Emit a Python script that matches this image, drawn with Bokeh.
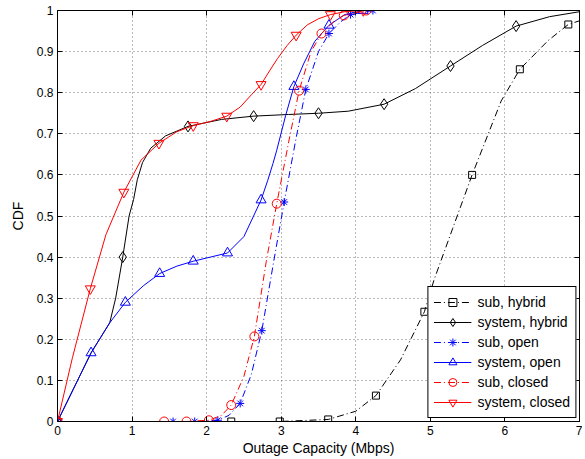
from bokeh.plotting import figure
from bokeh.models import Range1d, LinearAxis, FixedTicker, CustomJSTickFormatter
from bokeh.embed import file_html
from bokeh.resources import INLINE

# ---- data ----
x_ticks = [0, 1, 2, 3, 4, 5, 6, 7]
y_ticks = [0.0, 0.1, 0.2, 0.3, 0.4, 0.5, 0.6, 0.7, 0.8, 0.9, 1.0]

sub_hybrid_x = [0, 2.33, 2.98, 3.63, 4.0, 4.27, 4.6, 4.92, 5.05, 5.3, 5.56, 5.95, 6.2, 6.58, 6.85, 7.0]
sub_hybrid_y = [0, 0, 0, 0.005, 0.025, 0.063, 0.15, 0.267, 0.345, 0.47, 0.6, 0.78, 0.857, 0.927, 0.966, 0.975]
sub_hybrid_mx = [0, 2.33, 2.98, 3.63, 4.27, 4.92, 5.56, 6.2, 6.85]
sub_hybrid_my = [0, 0, 0, 0.005, 0.063, 0.267, 0.6, 0.857, 0.966]

sys_hybrid_x = [0, 0.45, 0.7, 0.78, 0.875, 0.96, 1.02, 1.07, 1.14, 1.25, 1.45, 1.75, 2.2, 2.63, 3.1, 3.5, 3.9, 4.38, 4.8, 5.27, 5.7, 6.15, 6.6, 7.0]
sys_hybrid_y = [0, 0.167, 0.24, 0.30, 0.40, 0.50, 0.54, 0.588, 0.63, 0.665, 0.695, 0.718, 0.735, 0.743, 0.747, 0.75, 0.755, 0.772, 0.81, 0.865, 0.915, 0.962, 0.985, 0.997]
sys_hybrid_mx = [0, 0.875, 1.75, 2.63, 3.5, 4.38, 5.27, 6.15]
sys_hybrid_my = [0, 0.40, 0.718, 0.743, 0.75, 0.772, 0.865, 0.962]

sub_open_x = [0, 1.55, 1.84, 2.15, 2.3, 2.45, 2.6, 2.74, 2.9, 3.04, 3.2, 3.33, 3.5, 3.64, 3.8, 3.93, 4.23]
sub_open_y = [0, 0, 0, 0.003, 0.015, 0.044, 0.115, 0.221, 0.39, 0.534, 0.69, 0.808, 0.9, 0.944, 0.973, 0.99, 1.0]
sub_open_mx = [0, 1.55, 1.84, 2.15, 2.45, 2.74, 3.04, 3.33, 3.64, 3.93, 4.23]
sub_open_my = [0, 0, 0, 0.003, 0.044, 0.221, 0.534, 0.808, 0.944, 0.99, 1.0]

sys_open_x = [0, 0.45, 0.7, 0.91, 1.15, 1.37, 1.6, 1.82, 2.05, 2.28, 2.5, 2.73, 2.82, 2.89, 2.94, 3.06, 3.17, 3.3, 3.45, 3.64, 3.85, 4.1, 4.5]
sys_open_y = [0, 0.167, 0.24, 0.29, 0.33, 0.36, 0.378, 0.39, 0.40, 0.41, 0.45, 0.539, 0.587, 0.628, 0.66, 0.745, 0.815, 0.87, 0.925, 0.964, 0.99, 1.0, 1.0]
sys_open_mx = [0, 0.45, 0.91, 1.37, 1.82, 2.28, 2.73, 3.17, 3.64, 4.1]
sys_open_my = [0, 0.167, 0.29, 0.36, 0.39, 0.41, 0.539, 0.815, 0.964, 1.0]

sub_closed_x = [0, 1.43, 1.73, 2.03, 2.2, 2.33, 2.5, 2.64, 2.8, 2.94, 3.1, 3.24, 3.4, 3.54, 3.7, 3.84, 4.14]
sub_closed_y = [0, 0, 0, 0.003, 0.015, 0.04, 0.11, 0.207, 0.39, 0.53, 0.68, 0.805, 0.9, 0.944, 0.972, 0.988, 1.0]
sub_closed_mx = [0, 1.43, 1.73, 2.03, 2.33, 2.64, 2.94, 3.24, 3.54, 3.84, 4.14]
sub_closed_my = [0, 0, 0, 0.003, 0.04, 0.207, 0.53, 0.805, 0.944, 0.988, 1.0]

sys_closed_x = [0, 0.2, 0.44, 0.65, 0.89, 1.12, 1.36, 1.6, 1.82, 2.05, 2.27, 2.45, 2.6, 2.73, 2.85, 2.95, 3.08, 3.2, 3.35, 3.5, 3.66, 3.85, 4.1, 4.5]
sys_closed_y = [0, 0.155, 0.323, 0.455, 0.558, 0.636, 0.677, 0.705, 0.72, 0.73, 0.743, 0.765, 0.795, 0.82, 0.855, 0.883, 0.915, 0.94, 0.965, 0.98, 0.99, 0.997, 1.0, 1.0]
sys_closed_mx = [0, 0.44, 0.89, 1.36, 1.82, 2.27, 2.73, 3.2, 3.66, 4.1]
sys_closed_my = [0, 0.323, 0.558, 0.677, 0.72, 0.743, 0.82, 0.94, 0.99, 1.0]

FONT = "Liberation Sans"

p = figure(width=582, height=458, x_range=Range1d(0, 7), y_range=Range1d(0, 1),
           output_backend="svg", toolbar_location=None,
           min_border_left=57, min_border_right=3, min_border_top=10, min_border_bottom=36)

p.outline_line_color = "black"
p.outline_line_width = 1
p.outline_line_alpha = 1

# main axes
p.xaxis.ticker = FixedTicker(ticks=x_ticks)
p.yaxis.ticker = FixedTicker(ticks=y_ticks)
p.yaxis.formatter = CustomJSTickFormatter(code="return tick.toFixed(1).replace(/\\.0$/, '');")
p.xaxis.axis_label = "Outage Capacity (Mbps)"
p.yaxis.axis_label = "CDF"
for ax in (p.xaxis, p.yaxis):
    ax.axis_label_text_font = FONT
    ax.axis_label_text_font_size = "14px"
    ax.axis_label_text_font_style = "normal"
    ax.axis_label_text_color = "black"
    ax.major_label_text_font = FONT
    ax.major_label_text_font_size = "12px"
    ax.major_label_text_color = "black"
    ax.major_tick_in = 5
    ax.major_tick_out = 0
    ax.minor_tick_line_color = None
    ax.axis_line_color = "black"
    ax.major_tick_line_color = "black"
    ax.major_label_standoff = 4
p.xaxis.axis_label_standoff = 2
p.yaxis.axis_label_standoff = 8

# box ticks on top / right
for loc, tk in (("above", x_ticks), ("right", y_ticks)):
    a = LinearAxis(ticker=FixedTicker(ticks=tk),
                   formatter=CustomJSTickFormatter(code="return '';"),
                   major_label_text_font_size="0px", major_label_standoff=0,
                   major_tick_in=5, major_tick_out=0, minor_tick_line_color=None,
                   axis_line_color="black", major_tick_line_color="black")
    p.add_layout(a, loc)

# grid
for g in (p.xgrid, p.ygrid):
    g.grid_line_color = "#666666"
    g.grid_line_dash = "1 3"
    g.grid_line_width = 1
    g.grid_line_alpha = 0.9

DASHDOT = "7 3 1 3"

series = [
    ("sub, hybrid", sub_hybrid_x, sub_hybrid_y, sub_hybrid_mx, sub_hybrid_my, "black", DASHDOT, "square", 7),
    ("system, hybrid", sys_hybrid_x, sys_hybrid_y, sys_hybrid_mx, sys_hybrid_my, "black", "solid", "diamond", 11),
    ("sub, open", sub_open_x, sub_open_y, sub_open_mx, sub_open_my, "blue", DASHDOT, "asterisk", 8),
    ("system, open", sys_open_x, sys_open_y, sys_open_mx, sys_open_my, "blue", "solid", "triangle", 10),
    ("sub, closed", sub_closed_x, sub_closed_y, sub_closed_mx, sub_closed_my, "red", DASHDOT, "circle", 9),
    ("system, closed", sys_closed_x, sys_closed_y, sys_closed_mx, sys_closed_my, "red", "solid", "inverted_triangle", 10),
]

for label, x, y, mx, my, col, dash, marker, size in series:
    p.line(x, y, line_color=col, line_width=1, line_dash=dash, legend_label=label)
    p.scatter(mx, my, marker=marker, size=size, line_color=col, line_width=1,
              fill_alpha=0, legend_label=label)

lg = p.legend[0]
lg.location = "bottom_right"
lg.margin = 3
lg.border_line_color = "black"
lg.border_line_width = 1
lg.border_line_alpha = 1
lg.background_fill_color = "white"
lg.background_fill_alpha = 1
lg.label_text_font = FONT
lg.label_text_font_size = "14px"
lg.label_text_color = "black"
lg.glyph_width = 38
lg.glyph_height = 20
lg.label_height = 20
lg.spacing = 0
lg.padding = 5
lg.label_standoff = 6

open("out.html", "w").write(file_html(p, INLINE))
